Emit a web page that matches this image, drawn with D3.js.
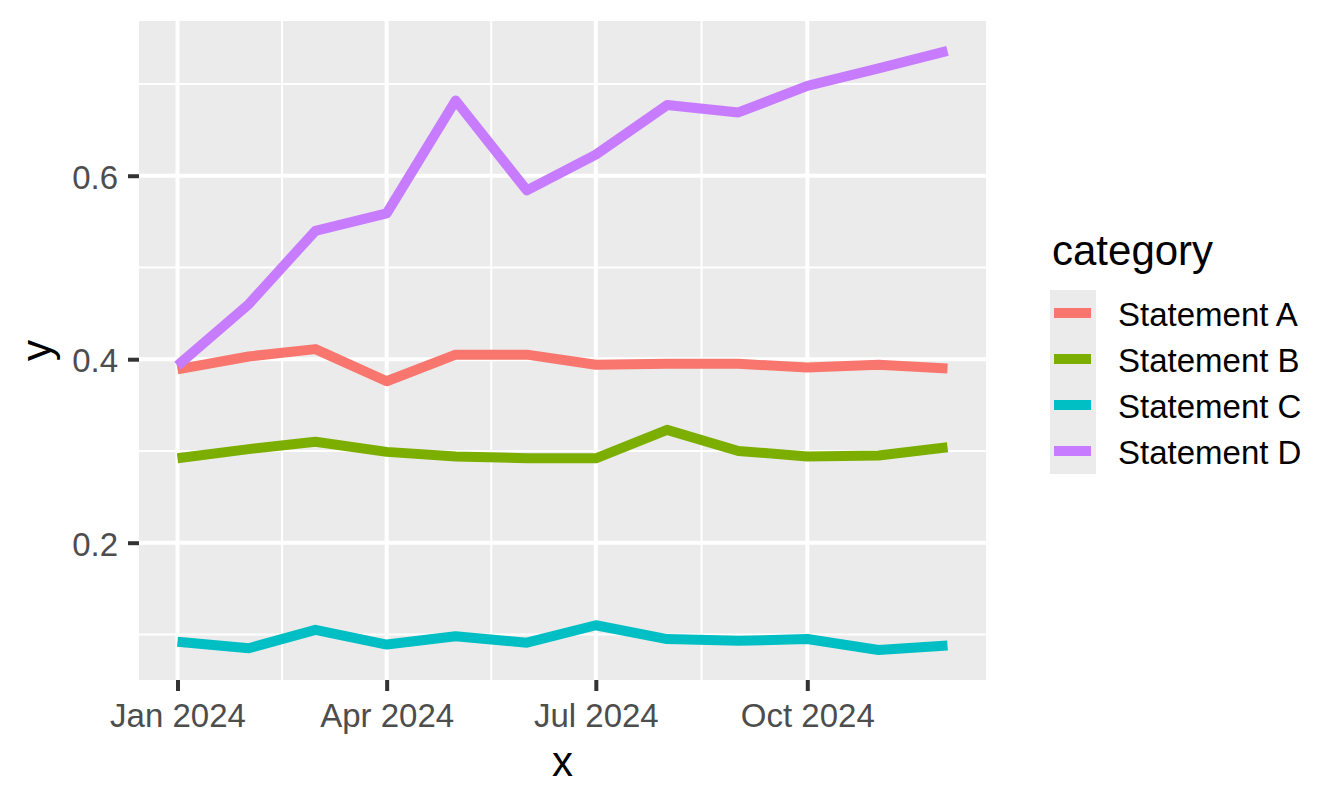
<!DOCTYPE html>
<html lang="en">
    <head>
        <meta charset="UTF-8" />
        <title>D3</title>
        <script src="https://d3js.org/d3.v7.min.js"></script>
        <style>
            body {
                margin: 0;
                background: #ffffff;
            }
            text {
                font-family: "Liberation Sans", Arial, sans-serif;
            }
        </style>
    </head>
    <body>
        <div class="canvas"></div>
        <script>
            // monthly dates (first of each month, 2024)
            const months = [
                "2024-01-01", "2024-02-01", "2024-03-01", "2024-04-01",
                "2024-05-01", "2024-06-01", "2024-07-01", "2024-08-01",
                "2024-09-01", "2024-10-01", "2024-11-01", "2024-12-01",
            ];
            const categories = ["Statement A", "Statement B", "Statement C", "Statement D"];
            const colors = ["#F8766D", "#7CAE00", "#00BFC4", "#C77CFF"];

            const statementA = [0.389, 0.403, 0.411, 0.376, 0.405, 0.405, 0.394, 0.395, 0.395, 0.391, 0.394, 0.390];
            const statementB = [0.292, 0.302, 0.310, 0.299, 0.294, 0.292, 0.292, 0.323, 0.300, 0.294, 0.295, 0.304];
            const statementC = [0.092, 0.085, 0.105, 0.089, 0.098, 0.091, 0.110, 0.095, 0.093, 0.095, 0.083, 0.088];
            const statementD = [0.393, 0.460, 0.540, 0.559, 0.682, 0.584, 0.623, 0.677, 0.669, 0.698, 0.717, 0.736];
            const seriesValues = [statementA, statementB, statementC, statementD];

            const xBreaks = ["2024-01-01", "2024-04-01", "2024-07-01", "2024-10-01"];
            const yBreaks = [0.2, 0.4, 0.6];
            const yMinor = [0.1, 0.3, 0.5, 0.7];

            const width = 1344;
            const height = 806;
            const margin = { top: 21, right: 358, bottom: 126, left: 139 };
            const graphWidth = width - margin.left - margin.right;
            const graphHeight = height - margin.top - margin.bottom;

            const parse = d3.utcParse("%Y-%m-%d");
            const dates = months.map(parse);

            const svg = d3
                .select(".canvas")
                .append("svg")
                .attr("width", width)
                .attr("height", height);

            const graph = svg
                .append("g")
                .attr("transform", `translate(${margin.left}, ${margin.top})`);

            // ggplot style 5% expansion
            const t0 = +dates[0];
            const t1 = +dates[dates.length - 1];
            const tPad = (t1 - t0) * 0.05;
            const x = d3
                .scaleUtc()
                .domain([new Date(t0 - tPad), new Date(t1 + tPad)])
                .range([0, graphWidth]);

            const allValues = seriesValues.flat();
            const [yLo, yHi] = d3.extent(allValues);
            const yPad = (yHi - yLo) * 0.05;
            const y = d3
                .scaleLinear()
                .domain([yLo - yPad, yHi + yPad])
                .range([graphHeight, 0]);

            graph
                .append("rect")
                .attr("width", graphWidth)
                .attr("height", graphHeight)
                .attr("fill", "#EBEBEB");

            const xMajor = xBreaks.map(parse);
            const xMinor = d3.pairs(xMajor).map(([a, b]) => new Date((+a + +b) / 2));

            // minor grid
            graph
                .selectAll(".ygrid-minor")
                .data(yMinor)
                .enter()
                .append("line")
                .attr("x1", 0)
                .attr("x2", graphWidth)
                .attr("y1", (d) => y(d))
                .attr("y2", (d) => y(d))
                .attr("stroke", "#ffffff")
                .attr("stroke-width", 2);

            graph
                .selectAll(".xgrid-minor")
                .data(xMinor)
                .enter()
                .append("line")
                .attr("y1", 0)
                .attr("y2", graphHeight)
                .attr("x1", (d) => x(d))
                .attr("x2", (d) => x(d))
                .attr("stroke", "#ffffff")
                .attr("stroke-width", 2);

            // major grid
            graph
                .selectAll(".ygrid")
                .data(yBreaks)
                .enter()
                .append("line")
                .attr("x1", 0)
                .attr("x2", graphWidth)
                .attr("y1", (d) => y(d))
                .attr("y2", (d) => y(d))
                .attr("stroke", "#ffffff")
                .attr("stroke-width", 4);

            graph
                .selectAll(".xgrid")
                .data(xMajor)
                .enter()
                .append("line")
                .attr("y1", 0)
                .attr("y2", graphHeight)
                .attr("x1", (d) => x(d))
                .attr("x2", (d) => x(d))
                .attr("stroke", "#ffffff")
                .attr("stroke-width", 4);

            // lines
            const line = d3
                .line()
                .x((d) => x(d[0]))
                .y((d) => y(d[1]));

            graph
                .selectAll(".series")
                .data(seriesValues)
                .enter()
                .append("path")
                .attr("fill", "none")
                .attr("stroke", (d, i) => colors[i])
                .attr("stroke-width", 10)
                .attr("stroke-linejoin", "round")
                .attr("stroke-linecap", "butt")
                .attr("d", (vals) => line(vals.map((v, i) => [dates[i], v])));

            // axes
            const xAxis = d3
                .axisBottom(x)
                .tickValues(xMajor)
                .tickFormat(d3.utcFormat("%b %Y"))
                .tickSize(11)
                .tickPadding(13);
            const yAxis = d3
                .axisLeft(y)
                .tickValues(yBreaks)
                .tickFormat(d3.format(".1f"))
                .tickSize(11)
                .tickPadding(10);

            const xAxisG = graph
                .append("g")
                .attr("transform", `translate(0, ${graphHeight})`)
                .call(xAxis);
            const yAxisG = graph.append("g").call(yAxis);

            [xAxisG, yAxisG].forEach((g) => {
                g.select(".domain").remove();
                g.selectAll(".tick line")
                    .attr("stroke", "#333333")
                    .attr("stroke-width", 4);
                g.selectAll(".tick text")
                    .attr("fill", "#4D4D4D")
                    .style("font-size", "33px");
            });
            xAxisG.selectAll(".tick text").attr("dy", "0.71em");
            yAxisG.selectAll(".tick text").attr("dy", "0.38em");

            // axis titles
            svg.append("text")
                .attr("x", margin.left + graphWidth / 2)
                .attr("y", 776)
                .attr("text-anchor", "middle")
                .attr("fill", "#000000")
                .style("font-size", "42px")
                .text("x");

            svg.append("text")
                .attr("transform", `translate(51, ${margin.top + graphHeight / 2}) rotate(-90)`)
                .attr("text-anchor", "middle")
                .attr("fill", "#000000")
                .style("font-size", "42px")
                .text("y");

            // legend
            const legend = svg.append("g").attr("transform", "translate(1050, 0)");

            legend
                .append("text")
                .attr("x", 2)
                .attr("y", 265)
                .attr("fill", "#000000")
                .style("font-size", "42px")
                .text("category");

            const keys = legend
                .selectAll(".key")
                .data(categories)
                .enter()
                .append("g")
                .attr("transform", (d, i) => `translate(0, ${290 + i * 46})`);

            keys.append("rect")
                .attr("width", 46)
                .attr("height", 46)
                .attr("fill", "#EBEBEB");

            keys.append("line")
                .attr("x1", 4)
                .attr("x2", 41)
                .attr("y1", 23)
                .attr("y2", 23)
                .attr("stroke", (d, i) => colors[i])
                .attr("stroke-width", 10);

            keys.append("text")
                .attr("x", 68)
                .attr("y", 23)
                .attr("dy", "0.38em")
                .attr("fill", "#000000")
                .style("font-size", "33px")
                .text((d) => d);
        </script>
    </body>
</html>
